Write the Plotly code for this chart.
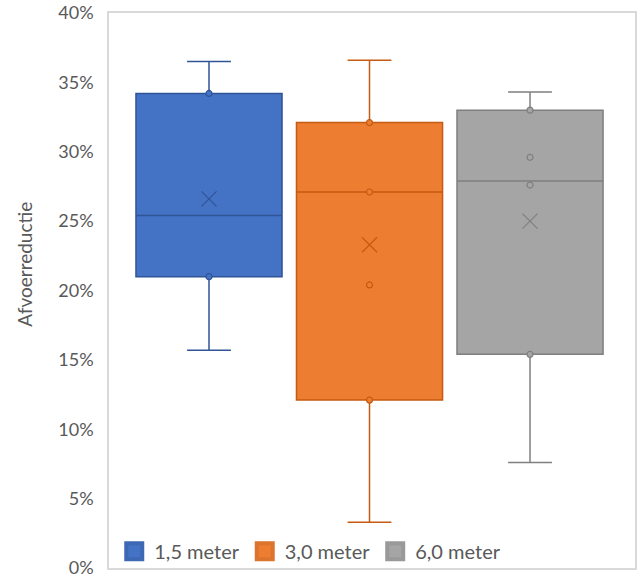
import plotly.graph_objects as go

# Afvoerreductie per strookbreedte (box-and-whisker summary)
series = ["1,5 meter", "3,0 meter", "6,0 meter"]
lower_whisker = [0.157, 0.033, 0.076]
q1 = [0.210, 0.121, 0.154]
median = [0.254, 0.271, 0.279]
q3 = [0.342, 0.321, 0.330]
upper_whisker = [0.365, 0.366, 0.343]
mean = [0.266, 0.233, 0.250]
inner_points = [
    [0.210, 0.342],
    [0.121, 0.204, 0.271, 0.321],
    [0.154, 0.276, 0.296, 0.330],
]
y_ticks = [0.0, 0.05, 0.10, 0.15, 0.20, 0.25, 0.30, 0.35, 0.40]
y_tick_labels = ["0%", "5%", "10%", "15%", "20%", "25%", "30%", "35%", "40%"]

fill_colors = ["#4472C4", "#ED7D31", "#A5A5A5"]
line_colors = ["#2F5597", "#C55A11", "#7F7F7F"]
swatch_edges = ["#3E68B4", "#DC742D", "#999999"]

FONT = "Lato, 'Open Sans', sans-serif"
TEXT = "#595959"

fig = go.Figure()

for i, name in enumerate(series):
    fig.add_trace(go.Box(
        x=[i], q1=[q1[i]], median=[median[i]], q3=[q3[i]],
        lowerfence=[lower_whisker[i]], upperfence=[upper_whisker[i]],
        width=0.91, whiskerwidth=0.3,
        fillcolor=fill_colors[i],
        line=dict(color=line_colors[i], width=1.5),
        name=name, showlegend=False, hoverinfo="skip",
    ))
    # individual inner points
    fig.add_trace(go.Scatter(
        x=[i] * len(inner_points[i]), y=inner_points[i], mode="markers",
        marker=dict(symbol="circle", size=6, color=fill_colors[i],
                    line=dict(color=line_colors[i], width=1.2)),
        showlegend=False, hoverinfo="skip", cliponaxis=False,
    ))
    # mean marker
    fig.add_trace(go.Scatter(
        x=[i], y=[mean[i]], mode="markers",
        marker=dict(symbol="x-thin", size=15,
                    line=dict(color=line_colors[i], width=1.2)),
        showlegend=False, hoverinfo="skip",
    ))
    # legend swatch
    fig.add_trace(go.Scatter(
        x=[None], y=[None], mode="markers", name=name,
        marker=dict(symbol="square", size=16, color=fill_colors[i],
                    line=dict(color=swatch_edges[i], width=4)),
    ))

fig.update_layout(
    width=642, height=580,
    margin=dict(l=109, r=7, t=13, b=12, autoexpand=False),
    paper_bgcolor="white", plot_bgcolor="white",
    font=dict(family=FONT, size=18, color=TEXT),
    legend=dict(orientation="h", x=0.01, y=0.03, xanchor="left",
                yanchor="middle", bgcolor="rgba(0,0,0,0)",
                font=dict(family=FONT, size=20, color=TEXT),
                itemwidth=30, tracegroupgap=0),
    xaxis=dict(range=[-0.623, 2.654], showticklabels=False, showgrid=False,
               zeroline=False, showline=True, mirror=True,
               linecolor="#D9D9D9", linewidth=1.5, ticks="",
               automargin=False),
    yaxis=dict(range=[0, 0.40], tickmode="array", tickvals=y_ticks,
               ticktext=y_tick_labels, showgrid=False,
               zeroline=False, showline=True, mirror=True,
               linecolor="#D9D9D9", linewidth=1.5, ticks="",
               ticklabelstandoff=10, ticklabeloverflow="allow",
               automargin=False,
               tickfont=dict(family=FONT, size=18, color=TEXT)),
    annotations=[dict(
        text="Afvoerreductie", textangle=-90, xref="paper", yref="paper",
        x=-0.16, y=0.548, xanchor="center", yanchor="middle",
        showarrow=False, font=dict(family=FONT, size=19, color=TEXT),
    )],
)

fig.write_html("out.html")
